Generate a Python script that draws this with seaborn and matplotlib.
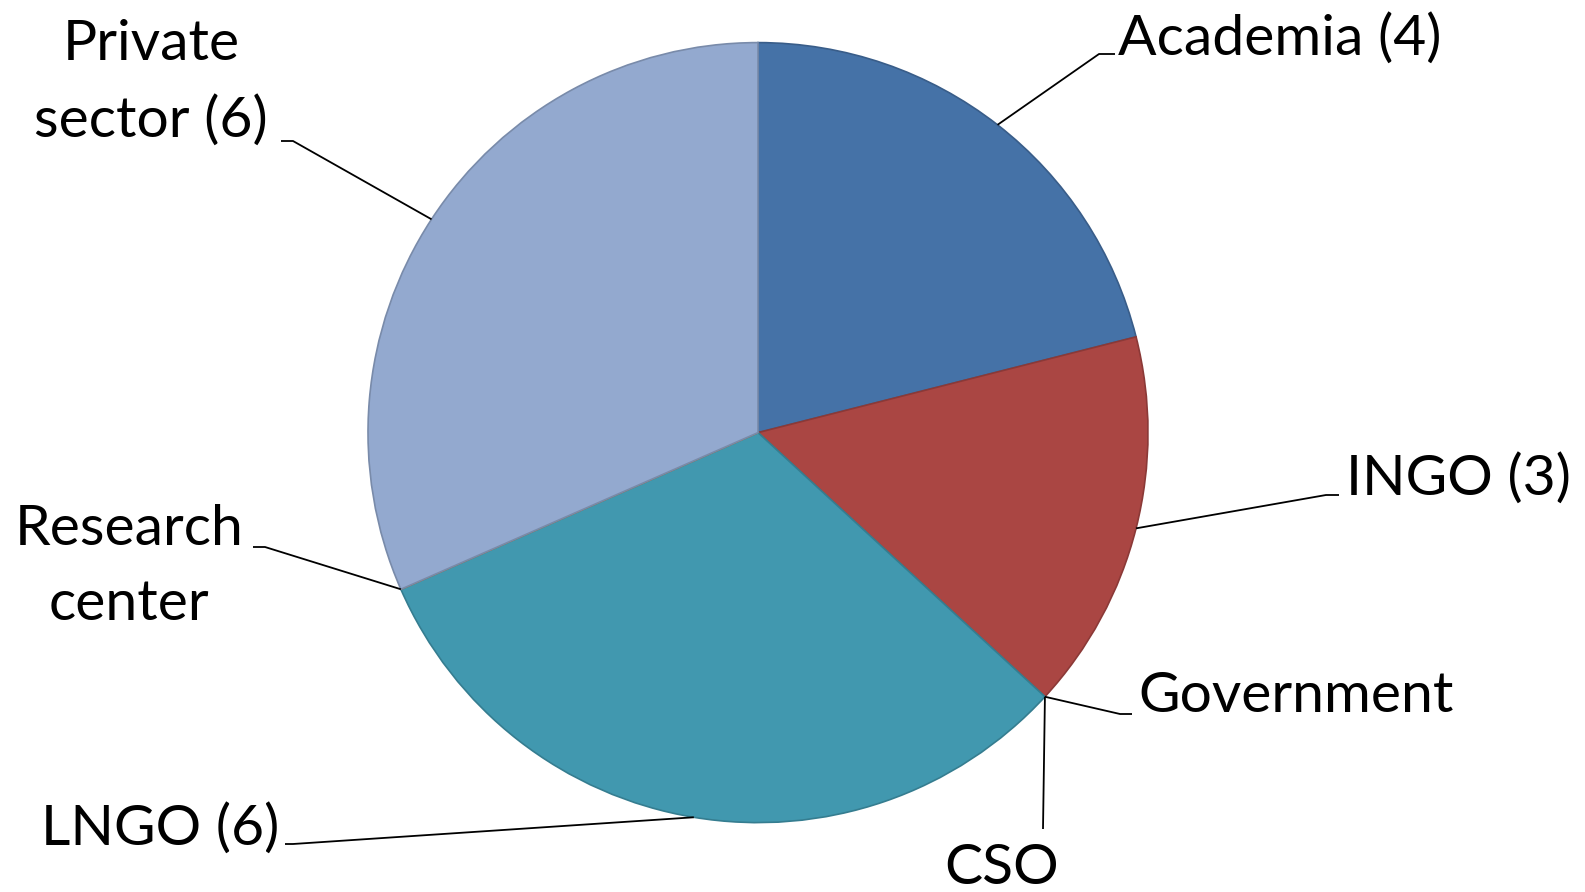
import numpy as np
import matplotlib
matplotlib.use("Agg")
import matplotlib.pyplot as plt
import matplotlib.colors as mcolors
import seaborn as sns

# data
categories = ["Academia", "INGO", "Government", "CSO", "LNGO", "Research center", "Private sector"]
counts = [4, 3, 0, 0, 6, 0, 6]
label_texts = ["Academia (4)", "INGO (3)", "Government", "CSO", "LNGO (6)",
               "Research\ncenter", "Private\nsector (6)"]
colors = ["#4572A7", "#AA4643", "#89A54E", "#80699B", "#4198AF", "#DB843D", "#93A9CF"]

sns.set_theme(style="white")
plt.rcParams["font.family"] = ["Lato", "DejaVu Sans"]

W, H = 1585, 892
fig = plt.figure(figsize=(W / 100, H / 100), dpi=100)
ax = fig.add_axes([0, 0, 1, 1])

cx, cy, r = 758, H - 432.6, 390
edge_cols = [tuple(c * 0.82 for c in mcolors.to_rgb(col)) for col in colors]
wedges, _ = ax.pie(counts, colors=colors, startangle=90, counterclock=False,
                   center=(cx, cy), radius=r, frame=True,
                   wedgeprops=dict(linewidth=1.2))
for w, ec in zip(wedges, edge_cols):
    w.set_edgecolor(ec)
ax.set_xlim(0, W)
ax.set_ylim(0, H)
ax.set_aspect("equal")
ax.axis("off")

# label layout: (elbow x, elbow y, end x, end y, text x, text y, ha), pixel coords from top
layout = {
    "Academia": (1099, 54, 1115, 54, 1118, 39, "left"),
    "INGO": (1326, 495, 1339, 495, 1346, 479, "left"),
    "Government": (1120, 714, 1132, 714, 1138, 697, "left"),
    "CSO": (1043, 829, 1043, 829, 1002, 869, "center"),
    "LNGO": (293, 844, 285, 844, 279, 829, "right"),
    "Research center": (265, 547, 253, 547, 129, 567, "center"),
    "Private sector": (293, 141, 281, 141, 151, 83, "center"),
}

for w, cat, txt in zip(wedges, categories, label_texts):
    mid = np.deg2rad((w.theta1 + w.theta2) / 2)
    ax0 = cx + r * np.cos(mid)
    ay0 = cy + r * np.sin(mid)
    ex, ey, fx, fy, tx, ty, ha = layout[cat]
    ax.plot([ax0, ex, fx], [ay0, H - ey, H - fy], color="black", lw=1.3,
            solid_capstyle="butt")
    ax.text(tx, H - ty, txt, ha=ha, va="center", fontsize=41,
            linespacing=1.58, color="black")

fig.savefig("out.png", dpi=100, facecolor="white")
